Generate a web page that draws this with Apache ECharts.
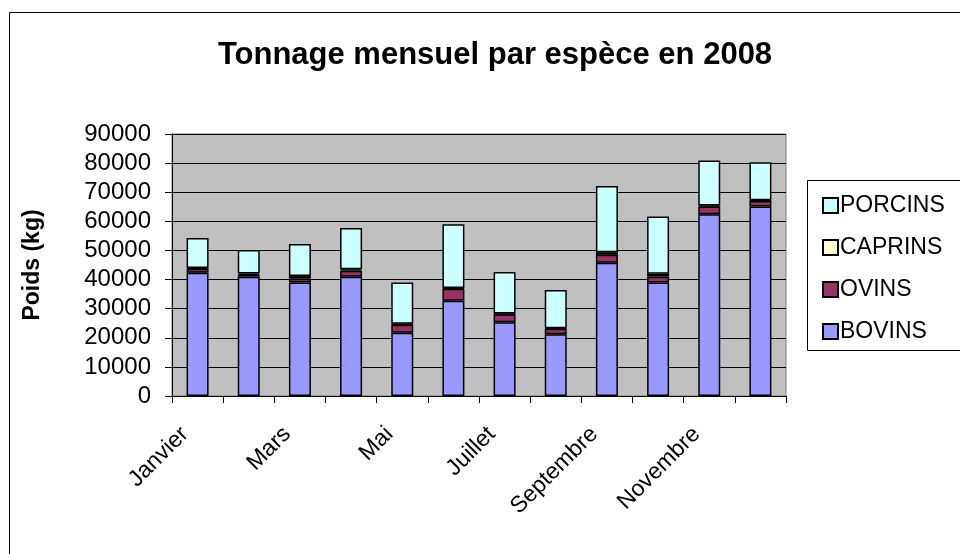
<!DOCTYPE html>
<html><head><meta charset="utf-8">
<script src="https://cdn.jsdelivr.net/npm/echarts@6/dist/echarts.min.js"></script>
<style>html,body{margin:0;padding:0;background:#fff}#c{width:960px;height:554px}</style>
</head><body><div id="c"></div>
<script>
var months = ['Janvier','Février','Mars','Avril','Mai','Juin','Juillet','Août','Septembre','Octobre','Novembre','Décembre'];
var bovins  = [42300, 41000, 39000, 41000, 21700, 32700, 25300, 21200, 45800, 39000, 62400, 65100];
var ovins   = [1400, 600, 1300, 2000, 2800, 4100, 2800, 1900, 2700, 2000, 2700, 1900];
var caprins = [300, 500, 900, 500, 300, 300, 200, 200, 900, 1000, 300, 200];
var porcins = [10300, 8050, 11000, 14200, 14200, 21900, 14300, 13100, 22700, 19700, 15500, 13100];
var yTicks = [0,10000,20000,30000,40000,50000,60000,70000,80000,90000];

var font = 'Liberation Sans, Arial, sans-serif';
function s(name, data, color){
  return {name:name, type:'bar', stack:'t', data:data, barWidth:22,
    itemStyle:{color:color, borderColor:'#000', borderWidth:1.5}};
}
var chart = echarts.init(document.getElementById('c'));
chart.setOption({
  animation:false,
  backgroundColor:'#fff',
  title:{text:'Tonnage mensuel par espèce en 2008', left:490, top:35, textAlign:'center',
    textStyle:{fontFamily:font, fontWeight:'bold', fontSize:31, color:'#000'}},
  graphic:[
    {type:'rect', shape:{x:9.5, y:12.5, width:1000, height:1000}, style:{fill:'none', stroke:'#000', lineWidth:1}, z:-1},
    {type:'rect', shape:{x:807.5, y:180.5, width:200, height:170}, style:{fill:'#fff', stroke:'#000', lineWidth:1}, z:-1}
  ],
  legend:{orient:'vertical', left:817, top:189, itemGap:19, itemWidth:15, itemHeight:15,
    icon:'rect', data:['PORCINS','CAPRINS','OVINS','BOVINS'],
    textStyle:{fontFamily:font, fontSize:23, color:'#000', padding:[0,0,0,-3]}},
  grid:{left:172, right:174, top:134, bottom:158, show:true, backgroundColor:'#C0C0C0', borderColor:'#808080', borderWidth:1},
  xAxis:{type:'category', data:months,
    axisLine:{lineStyle:{color:'#000', width:1}},
    axisTick:{show:true, length:7, lineStyle:{color:'#000'}, alignWithLabel:false, interval:0},
    axisLabel:{interval:1, rotate:45, fontFamily:font, fontSize:23, color:'#000', margin:22, padding:[0,18,0,0]}},
  yAxis:{type:'value', min:0, max:90000, interval:10000,
    name:'Poids (kg)', nameLocation:'middle', nameGap:128, nameRotate:90,
    nameTextStyle:{fontFamily:font, fontWeight:'bold', fontSize:23, color:'#000'},
    axisLine:{show:true, lineStyle:{color:'#000'}},
    axisTick:{show:true, length:7, lineStyle:{color:'#000'}},
    axisLabel:{fontFamily:font, fontSize:24, color:'#000', margin:21,
      formatter:function(v){return yTicks.indexOf(v)>=0 ? String(v) : '';}},
    splitLine:{lineStyle:{color:'#000', width:1}}},
  series:[s('BOVINS', bovins, '#9999FF'), s('OVINS', ovins, '#993366'), s('CAPRINS', caprins, '#FFFFCC'), s('PORCINS', porcins, '#CCFFFF')]
});
</script></body></html>
